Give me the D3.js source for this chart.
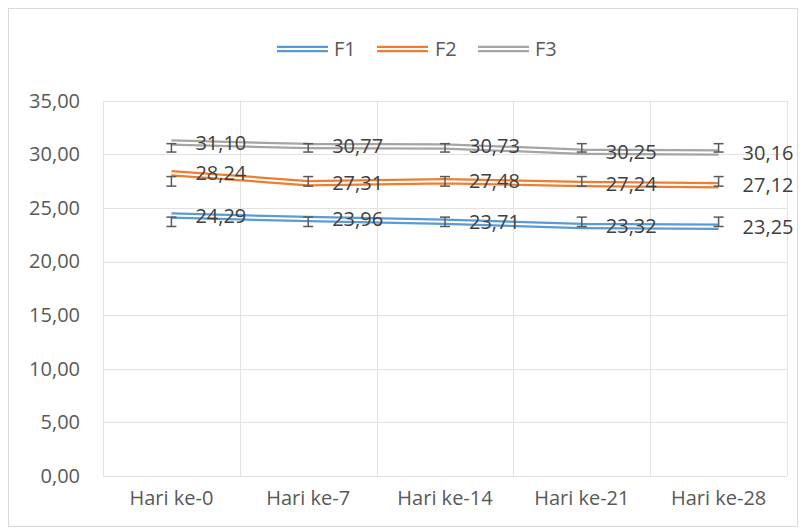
<!DOCTYPE html>
<html>
<head>
<meta charset="utf-8">
<script src="https://cdn.jsdelivr.net/npm/d3@7"></script>
<style>
  html, body { margin: 0; padding: 0; background: #fff; }
  text { font-family: "Open Sans", "DejaVu Sans", sans-serif; }
</style>
</head>
<body>
<svg id="chart" width="804" height="529"></svg>
<script>
// Observation days and the three formula series
const categories = ["Hari ke-0", "Hari ke-7", "Hari ke-14", "Hari ke-21", "Hari ke-28"];
const seriesNames = ["F1", "F2", "F3"];
const f1Values = [24.29, 23.96, 23.71, 23.32, 23.25];
const f2Values = [28.24, 27.31, 27.48, 27.24, 27.12];
const f3Values = [31.10, 30.77, 30.73, 30.25, 30.16];
const yTicks = [0, 5, 10, 15, 20, 25, 30, 35];
const seriesColors = ["#5b9bd5", "#ed7d31", "#a5a5a5"];

const series = seriesNames.map((name, i) => ({
  name,
  color: seriesColors[i],
  values: [f1Values, f2Values, f3Values][i]
}));

// Comma decimal separator
const locale = d3.formatLocale({ decimal: ",", thousands: ".", grouping: [3], currency: ["", ""] });
const fmt = locale.format(".2f");

const svg = d3.select("#chart");
const W = 804, H = 529;
const plot = { left: 103, right: 787, top: 100.7, bottom: 476 };

// Outer chart border
svg.append("rect")
  .attr("x", 8.5).attr("y", 8.5)
  .attr("width", 789).attr("height", 518)
  .attr("fill", "#fff").attr("stroke", "#d9d9d9").attr("stroke-width", 1);

const x = d3.scaleBand().domain(categories).range([plot.left, plot.right]).padding(0);
const y = d3.scaleLinear().domain([0, 35]).range([plot.bottom, plot.top]);
const cx = c => x(c) + x.bandwidth() / 2;

// Horizontal gridlines
svg.append("g")
  .selectAll("line")
  .data(yTicks)
  .join("line")
  .attr("x1", plot.left).attr("x2", plot.right)
  .attr("y1", d => Math.round(y(d)) + 0.5).attr("y2", d => Math.round(y(d)) + 0.5)
  .attr("stroke", "#e3e3e3").attr("stroke-width", 1);

// Vertical gridlines at category boundaries
const bounds = categories.map(c => x(c)).concat([plot.right]);
svg.append("g")
  .selectAll("line")
  .data(bounds)
  .join("line")
  .attr("x1", d => Math.round(d) + 0.5).attr("x2", d => Math.round(d) + 0.5)
  .attr("y1", plot.top).attr("y2", plot.bottom)
  .attr("stroke", "#e3e3e3").attr("stroke-width", 1);

// Y axis labels
const yAxis = svg.append("g")
  .attr("transform", `translate(${plot.left},0)`)
  .call(d3.axisLeft(y).tickValues(yTicks).tickFormat(fmt).tickSize(0).tickPadding(23));
yAxis.select(".domain").remove();
yAxis.selectAll("text")
  .attr("fill", "#595959")
  .style("font-size", "20px")
  .style("font-family", "'Open Sans', sans-serif");

// X axis labels
const xAxis = svg.append("g")
  .attr("transform", `translate(0,${plot.bottom})`)
  .call(d3.axisBottom(x).tickSize(0).tickPadding(15));
xAxis.select(".domain").remove();
xAxis.selectAll("text")
  .attr("fill", "#595959")
  .style("font-size", "20px")
  .style("font-family", "'Open Sans', sans-serif");

// Double-stroke lines
const line = d3.line()
  .x((d, i) => cx(categories[i]))
  .y(d => y(d));

const lines = svg.append("g");
series.forEach(s => {
  lines.append("path")
    .attr("d", line(s.values))
    .attr("fill", "none")
    .attr("stroke", s.color)
    .attr("stroke-width", 6.5)
    .attr("stroke-linejoin", "round");
  lines.append("path")
    .attr("d", line(s.values))
    .attr("fill", "none")
    .attr("stroke", "#fff")
    .attr("stroke-width", 2)
    .attr("stroke-linejoin", "round");
});

// Error bars: series mean ± sample standard deviation, placed at every category
const errG = svg.append("g");
series.forEach(s => {
  const m = d3.mean(s.values);
  const sd = d3.deviation(s.values);
  categories.forEach(c => {
    const px = cx(c);
    const y1 = y(m + sd), y2 = y(m - sd);
    errG.append("line").attr("x1", px).attr("x2", px).attr("y1", y1).attr("y2", y2)
      .attr("stroke", "#595959").attr("stroke-width", 1.5);
    [y1, y2].forEach(yy => {
      errG.append("line").attr("x1", px - 5).attr("x2", px + 5).attr("y1", yy).attr("y2", yy)
        .attr("stroke", "#595959").attr("stroke-width", 1.5);
    });
  });
});

// Data labels to the right of each point
const labG = svg.append("g");
series.forEach(s => {
  labG.selectAll(null)
    .data(s.values)
    .join("text")
    .attr("x", (d, i) => cx(categories[i]) + 24)
    .attr("y", d => y(d))
    .attr("dy", "0.35em")
    .attr("fill", "#404040")
    .style("font-size", "20px")
    .text(d => fmt(d));
});

// Legend
const legendItems = [
  { x: 277, tx: 334 },
  { x: 377, tx: 435 },
  { x: 478, tx: 535 }
];
const legY = 49;
const legG = svg.append("g");
series.forEach((s, i) => {
  const li = legendItems[i];
  legG.append("line").attr("x1", li.x).attr("x2", li.x + 51).attr("y1", legY).attr("y2", legY)
    .attr("stroke", s.color).attr("stroke-width", 6.5);
  legG.append("line").attr("x1", li.x).attr("x2", li.x + 51).attr("y1", legY).attr("y2", legY)
    .attr("stroke", "#fff").attr("stroke-width", 2);
  legG.append("text").attr("x", li.tx).attr("y", legY).attr("dy", "0.35em")
    .attr("fill", "#595959").style("font-size", "20px").text(s.name);
});
</script>
</body>
</html>
